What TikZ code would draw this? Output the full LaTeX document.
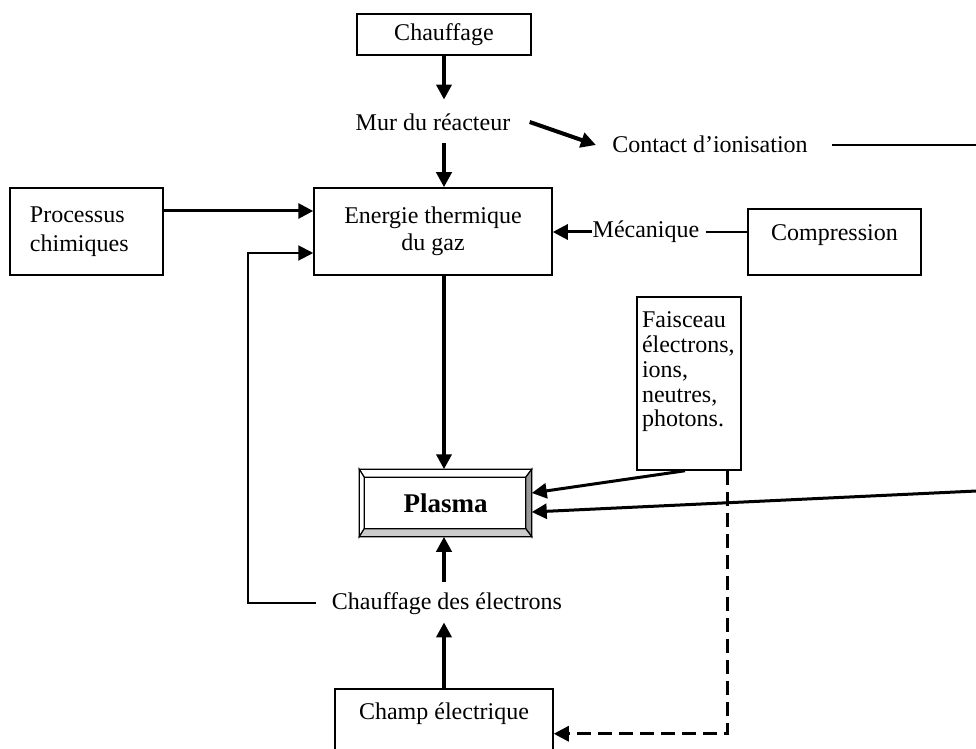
\documentclass[tikz,border=0pt]{standalone}
\usepackage{fontspec}
\setmainfont{Liberation Serif}
\usetikzlibrary{arrows.meta,calc}
\begin{document}
\begin{tikzpicture}[x=0.5pt,y=-0.5pt,
  every node/.style={font=\fontsize{12}{13.5}\selectfont},
  box/.style={draw, line width=0.75pt, inner sep=0pt},
  lbl/.style={inner sep=0pt, text height=8.5pt, text depth=2.5pt},
  headtip/.style={-{Triangle[length=7.5pt,width=7.5pt]}},
  bigarr/.style={headtip, line width=2pt},
  midarr/.style={headtip, line width=1.5pt},
  smallarr/.style={headtip, line width=1pt},
  thinline/.style={line width=0.75pt},
  dasharr/.style={headtip, line width=1.5pt, dash pattern=on 7pt off 3.5pt},
  bevel/.style={line width=0.6pt},
]
\clip (0,0) rectangle (976,749);

% nodes
\node[box, minimum width=87pt, minimum height=20.5pt] (chauf) at (444,34.5) {Chauffage};
\node[lbl] (mur) at (433,125) {Mur du réacteur};
\node[lbl] (contact) at (710,147) {Contact d’ionisation};
\node[box, minimum width=119pt, minimum height=43.5pt, align=center] (energie) at (433,231.5) {Energie thermique\\du gaz};
\node[box, minimum width=76.5pt, minimum height=43.5pt, text width=56.5pt, align=left,
      font=\fontsize{12}{14.5}\selectfont] (proc) at (86.5,231.5) {Processus\\chimiques};
\node[lbl] (meca) at (646,232) {Mécanique};
\node[box, minimum width=86.5pt, minimum height=33pt] (compr) at (834.5,242) {\raisebox{0.5pt}[0pt][0pt]{Compression}};
\node[box, minimum width=52pt, minimum height=86.5pt] (fais) at (689,383.5)
  {\raisebox{2.75pt}[0pt][0pt]{\parbox{47pt}{\raggedright\fontsize{12}{12.4}\selectfont Faisceau\\électrons,\\ions,\\neutres,\\photons.}}};
\node[box, minimum width=85.5pt, minimum height=33pt, font=\bfseries\fontsize{13.5}{16}\selectfont] (plasma) at (445.5,503) {Plasma};
\node[lbl] (chel) at (447,603) {Chauffage des électrons};
\node[box, anchor=north, minimum width=109pt, minimum height=50pt] (champ) at (444,688) {\raisebox{9.5pt}[0pt][0pt]{Champ électrique}};

% plasma bevel
\coordinate (pNW) at ($(plasma.north west)+(5,8)$);
\coordinate (pNE) at ($(plasma.north east)+(-6,8)$);
\coordinate (pSE) at ($(plasma.south east)+(-6,-8)$);
\coordinate (pSW) at ($(plasma.south west)+(5,-8)$);
\filldraw[bevel, fill=white] (plasma.north west) -- (plasma.north east) -- (pNE) -- (pNW) -- cycle;
\filldraw[bevel, fill=white] (plasma.north west) -- (pNW) -- (pSW) -- (plasma.south west) -- cycle;
\filldraw[bevel, fill=black!40] (plasma.north east) -- (plasma.south east) -- (pSE) -- (pNE) -- cycle;
\filldraw[bevel, fill=black!20] (plasma.south west) -- (pSW) -- (pSE) -- (plasma.south east) -- cycle;

% helper coordinates
\coordinate (cR) at (985,145);
\coordinate (pR) at (985,490.6);
\coordinate (fb) at (248,253);

% connectors
\draw[bigarr] (chauf.south) -- ($(mur.north -| chauf.south)+(0,-14)$);
\draw[bigarr] ($(mur.south -| chauf.south)+(0,7)$) -- (energie.north -| chauf.south);
\draw[bigarr] ($(mur.east)+(19,-3)$) -- ($(contact.west)+(-16,-2)$);
\draw[thinline] ($(contact.east)+(24,-2)$) -- (cR);
\draw[midarr] ($(proc.east)+(0,-20.5)$) -- ($(energie.west)+(0,-20.5)$);
\draw[smallarr] ($(chel.west)+(-16,0)$) -| (fb) -- (energie.west |- fb);
\draw[midarr] (meca.west) -- (energie.east |- meca.west);
\draw[thinline] ($(meca.east)+(6,0)$) -- (compr.west |- meca.east);
\draw[bigarr] (energie.south -| chauf.south) -- (plasma.north -| chauf.south);
\draw[midarr] ($(fais.south)+(-4,0)$) -- ($(plasma.east)+(0,-10)$);
\draw[midarr] (pR) -- ($(plasma.east)+(0,9)$);
\draw[bigarr] ($(chel.north -| chauf.south)+(0,-10)$) -- (plasma.south -| chauf.south);
\draw[bigarr] (champ.north -| chauf.south) -- ($(chel.south -| chauf.south)+(0,8)$);
\draw[dasharr] ($(fais.south)+(38,0)$) |- ($(champ.east)+(0,-5)$);
\end{tikzpicture}
\end{document}
